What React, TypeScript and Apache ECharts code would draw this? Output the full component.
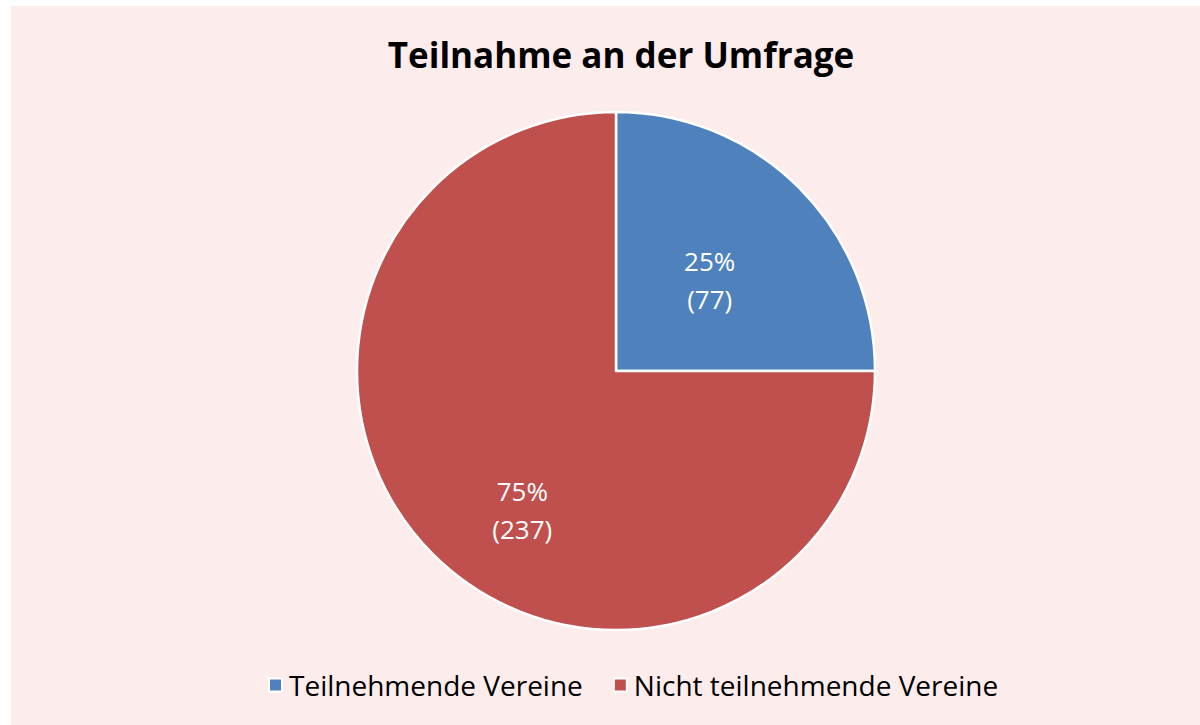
import React, { useEffect, useRef } from "react";
import * as echarts from "echarts";

const categories = ["Teilnehmende Vereine", "Nicht teilnehmende Vereine"];
const shares = [25, 75];
const counts = [77, 237];
const colors = ["#4F81BD", "#C0504D"];
const titleText = "Teilnahme an der Umfrage";

export default function App() {
  const ref = useRef<HTMLDivElement>(null);
  useEffect(() => {
    document.body.style.margin = "0";
    const chart = echarts.init(ref.current!, null, { renderer: "svg" });
    const font = '"Open Sans", "Noto Sans", sans-serif';
    chart.setOption({
      animation: false,
      backgroundColor: "#ffffff",
      graphic: [
        {
          type: "rect",
          shape: { x: 11, y: 6, width: 1189, height: 719 },
          style: { fill: "#FDECEC" },
          z: -10,
          silent: true,
        },
      ],
      title: {
        text: titleText,
        left: 616,
        top: 32,
        textAlign: "center",
        textStyle: { fontFamily: font, fontSize: 35, fontWeight: "bold", color: "#000" },
      },
      legend: {
        left: 263,
        top: 666,
        itemWidth: 13,
        itemHeight: 13,
        itemGap: 30,
        icon: "rect",
        textStyle: { fontFamily: font, fontSize: 28, color: "#000", padding: [0, 0, 0, 2] },
        data: categories,
      },
      series: [
        {
          type: "pie",
          center: [616, 371],
          radius: 259,
          startAngle: 90,
          clockwise: true,
          itemStyle: { borderColor: "#ffffff", borderWidth: 2.5 },
          label: {
            position: "inside",
            color: "#ffffff",
            fontFamily: font,
            fontSize: 26,
            lineHeight: 38,
            formatter: (p: any) => p.value + "%\n(" + counts[p.dataIndex] + ")",
          },
          labelLayout: (p: any) => ({ dy: p.dataIndex === 1 ? 45 : 3 }),
          labelLine: { show: false },
          data: categories.map((name, i) => ({
            name,
            value: shares[i],
            itemStyle: { color: colors[i] },
          })),
        },
      ],
    });
    return () => chart.dispose();
  }, []);
  return <div ref={ref} style={{ width: 1200, height: 725 }} />;
}
